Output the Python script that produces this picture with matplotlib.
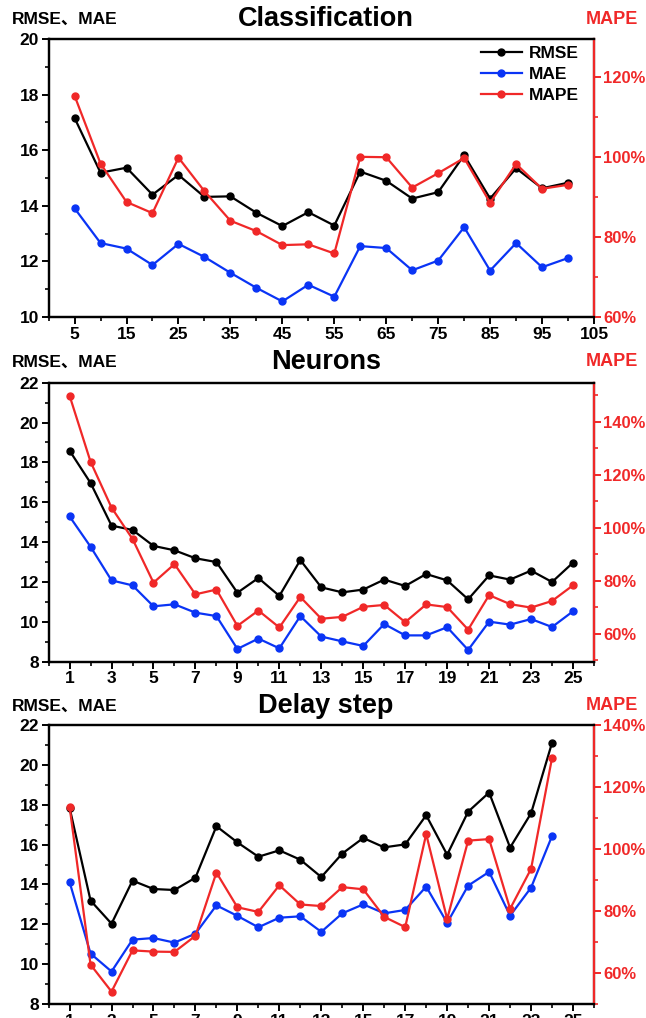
import matplotlib
matplotlib.use('Agg')
import matplotlib.pyplot as plt
from matplotlib.ticker import MultipleLocator, FuncFormatter

plt.rcParams['font.family'] = ['Liberation Sans', 'Noto Sans CJK SC', 'DejaVu Sans']
plt.rcParams['font.weight'] = 'bold'

BLACK = '#000000'
BLUE = '#0A34F5'
RED = '#F02828'

# Classification
cls_x = [5, 10, 15, 20, 25, 30, 35, 40, 45, 50, 55, 60, 65, 70, 75, 80, 85, 90, 95, 100]
cls_rmse = [17.16, 15.19, 15.37, 14.40, 15.11, 14.32, 14.34, 13.75, 13.27, 13.77,
            13.29, 15.23, 14.90, 14.26, 14.49, 15.82, 14.26, 15.35, 14.63, 14.83]
cls_mae = [13.91, 12.66, 12.46, 11.87, 12.63, 12.16, 11.59, 11.05, 10.56, 11.16,
           10.73, 12.55, 12.48, 11.68, 12.03, 13.23, 11.67, 12.66, 11.79, 12.12]
cls_mape = [115.4, 98.4, 88.8, 86.0, 99.9, 91.5, 84.1, 81.5, 78.0, 78.2,
            75.9, 100.1, 100.0, 92.4, 96.0, 99.8, 88.6, 98.3, 92.1, 93.1]

# Neurons
neu_x = list(range(1, 26))
neu_rmse = [18.59, 16.97, 14.83, 14.61, 13.81, 13.59, 13.19, 13.00, 11.46, 12.20,
            11.30, 13.10, 11.73, 11.48, 11.62, 12.12, 11.80, 12.40, 12.08, 11.13,
            12.33, 12.12, 12.57, 12.00, 12.97]
neu_mae = [15.29, 13.77, 12.08, 11.83, 10.78, 10.88, 10.46, 10.29, 8.64, 9.16,
           8.67, 10.29, 9.26, 9.02, 8.79, 9.89, 9.32, 9.32, 9.73, 8.59,
           10.01, 9.86, 10.14, 9.74, 10.53]
neu_mape = [149.8, 124.9, 107.6, 95.8, 79.3, 86.3, 74.9, 76.7, 63.0, 68.8,
            62.4, 73.9, 65.7, 66.4, 70.2, 70.9, 64.4, 71.1, 70.1, 61.6,
            74.6, 71.2, 69.9, 72.4, 78.3]

# Delay step
dly_x = list(range(1, 25))
dly_rmse = [17.85, 13.19, 12.03, 14.19, 13.77, 13.72, 14.34, 16.92, 16.11, 15.39,
            15.71, 15.24, 14.37, 15.55, 16.33, 15.86, 16.01, 17.47, 15.49, 17.65,
            18.61, 15.85, 17.57, 21.11]
dly_mae = [14.12, 10.53, 9.63, 11.23, 11.31, 11.08, 11.53, 12.95, 12.42, 11.85,
           12.33, 12.40, 11.62, 12.55, 13.00, 12.55, 12.72, 13.89, 12.07, 13.94,
           14.63, 12.43, 13.84, 16.43]
dly_mape = [113.7, 62.7, 54.0, 67.3, 66.9, 66.8, 72.0, 92.4, 81.2, 79.7,
            88.3, 82.1, 81.6, 87.7, 87.0, 78.1, 74.8, 104.8, 77.4, 102.7,
            103.2, 80.7, 93.6, 129.4]

W, H = 646, 1018


def px_box(left, right, top, bottom):
    return [left / W, 1 - bottom / H, (right - left) / W, (bottom - top) / H]


def draw_panel(fig, box, title, title_y, x, rmse, mae, mape,
               xticks, xminor, ylim, ylim2, legend=False):
    ax = fig.add_axes(box)
    ax2 = ax.twinx()
    kw = dict(lw=1.6, marker='o', markersize=5)
    l1, = ax.plot(x, rmse, color=BLACK, label='RMSE', **kw)
    l2, = ax.plot(x, mae, color=BLUE, label='MAE', **kw)
    l3, = ax2.plot(x, mape, color=RED, label='MAPE', **kw)

    ax.set_xlim(0, xticks[-1] if xticks[-1] > 30 else 26)
    ax.set_ylim(*ylim)
    ax2.set_ylim(*ylim2)
    ax.set_xticks(xticks)
    ax.xaxis.set_minor_locator(MultipleLocator(xminor))
    ax.yaxis.set_major_locator(MultipleLocator(2))
    ax.yaxis.set_minor_locator(MultipleLocator(1))
    ax2.yaxis.set_major_locator(MultipleLocator(20))
    ax2.yaxis.set_minor_locator(MultipleLocator(10))
    ax2.yaxis.set_major_formatter(FuncFormatter(lambda v, p: '{:d}%'.format(int(round(v)))))

    for a in (ax, ax2):
        for s in a.spines.values():
            s.set_linewidth(1.6)
    ax2.spines['right'].set_color(RED)
    ax.tick_params(axis='both', which='major', direction='out', length=5, width=1.4,
                   labelsize=12.5, pad=2)
    ax.tick_params(axis='both', which='minor', direction='out', length=3, width=1.2)
    ax2.tick_params(axis='y', which='major', direction='out', length=5, width=1.4,
                    colors=RED, labelsize=12, pad=1.5)
    ax2.tick_params(axis='y', which='minor', direction='out', length=3, width=1.2, colors=RED)
    for lab in ax.get_xticklabels() + ax.get_yticklabels() + ax2.get_yticklabels():
        lab.set_fontweight('bold')

    fig.text(326 / W, 1 - title_y / H, title, ha='center', va='center',
             fontsize=19.5, fontweight='bold')
    fig.text(12 / W, 1 - title_y / H, 'RMSE、MAE', ha='left', va='center',
             fontsize=12.5, fontweight='bold')
    fig.text(638 / W, 1 - title_y / H, 'MAPE', ha='right', va='center',
             fontsize=13, fontweight='bold', color=RED)

    if legend:
        ax.legend(handles=[l1, l2, l3], loc='upper right', frameon=False,
                  fontsize=12.5, handlelength=2.4, handletextpad=0.4,
                  labelspacing=0.35, borderaxespad=0.3, bbox_to_anchor=(0.995, 1.02))
    return ax, ax2


fig = plt.figure(figsize=(W / 100, H / 100), dpi=100)

draw_panel(fig, px_box(48.6, 594, 39, 317), 'Classification', 19,
           cls_x, cls_rmse, cls_mae, cls_mape,
           list(range(5, 106, 10)), 5, (10, 20), (60, 129.6), legend=True)
draw_panel(fig, px_box(48.6, 594, 382.7, 661.7), 'Neurons', 362,
           neu_x, neu_rmse, neu_mae, neu_mape,
           list(range(1, 26, 2)), 1, (8, 22), (49.5, 154.7))
draw_panel(fig, px_box(48.6, 594, 725, 1004), 'Delay step', 706,
           dly_x, dly_rmse, dly_mae, dly_mape,
           list(range(1, 26, 2)), 1, (8, 22), (50, 140))

fig.savefig('out.png', dpi=100)
